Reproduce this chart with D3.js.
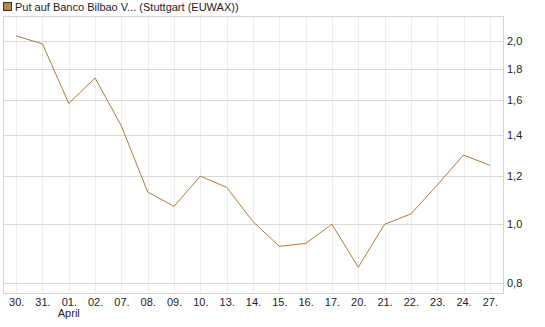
<!DOCTYPE html>
<meta charset="utf-8">
<style>
body { margin: 0; background: #fff; }
text { font-family: "Liberation Sans", Arial, sans-serif; }
</style>
<body>
<script src="https://d3js.org/d3.v7.min.js"></script>
<script>

const title = "Put auf Banco Bilbao V... (Stuttgart (EUWAX))";
const dates = ["30.", "31.", "01.", "02.", "07.", "08.", "09.", "10.", "13.", "14.", "15.", "16.", "17.", "20.", "21.", "22.", "23.", "24.", "27."];
const prices = [2.04, 1.98, 1.58, 1.74, 1.45, 1.13, 1.07, 1.20, 1.15, 1.01, 0.92, 0.93, 1.00, 0.85, 1.00, 1.04, 1.16, 1.30, 1.25];
const yTicks = [0.8, 1.0, 1.2, 1.4, 1.6, 1.8, 2.0];
const monthLabel = { index: 2, text: "April" };

const width = 545, height = 327;
const plot = { left: 3, right: 503, top: 16, bottom: 293 };

const svg = d3.select("body").append("svg")
   .attr("width", width)
   .attr("height", height);

const x = d3.scalePoint()
   .domain(dates)
   .range([plot.left, plot.right])
   .padding(0.5);

const y = d3.scaleLog()
   .domain([0.771, 2.2])
   .range([plot.bottom, plot.top]);

// vertical grid (light)
svg.append("g")
   .selectAll("line")
   .data(dates)
   .join("line")
   .attr("x1", d => Math.round(x(d)) + 0.5)
   .attr("x2", d => Math.round(x(d)) + 0.5)
   .attr("y1", plot.top)
   .attr("y2", plot.bottom)
   .attr("stroke", "#ececec");

// horizontal grid (a bit darker)
svg.append("g")
   .selectAll("line")
   .data(yTicks)
   .join("line")
   .attr("x1", plot.left)
   .attr("x2", plot.right)
   .attr("y1", d => Math.round(y(d)) + 0.5)
   .attr("y2", d => Math.round(y(d)) + 0.5)
   .attr("stroke", "#d9d9d9");

// frame
svg.append("rect")
   .attr("x", plot.left + 0.5)
   .attr("y", plot.top + 0.5)
   .attr("width", plot.right - plot.left)
   .attr("height", plot.bottom - plot.top)
   .attr("fill", "none")
   .attr("stroke", "#d4d4d4");

// y axis on the right
const yAxis = d3.axisRight(y)
   .tickValues(yTicks)
   .tickSize(0)
   .tickPadding(4)
   .tickFormat(d => d3.format(".1f")(d).replace(".", ","));

svg.append("g")
   .attr("transform", `translate(${plot.right},0)`)
   .call(yAxis)
   .call(g => g.select(".domain").remove())
   .selectAll("text")
   .style("font-size", "11px")
   .attr("fill", "#222");

// x axis labels
const xAxis = d3.axisBottom(x).tickSize(0).tickPadding(5);
svg.append("g")
   .attr("transform", `translate(0,${plot.bottom})`)
   .call(xAxis)
   .call(g => g.select(".domain").remove())
   .selectAll("text")
   .style("font-size", "11px")
   .attr("fill", "#222");

svg.append("text")
   .attr("x", x(dates[monthLabel.index]) - 11)
   .attr("y", 317)
   .style("font-size", "11px")
   .attr("fill", "#222")
   .text(monthLabel.text);

// price line
const line = d3.line()
   .x((d, i) => x(dates[i]))
   .y(d => y(d));

svg.append("path")
   .datum(prices)
   .attr("d", line)
   .attr("fill", "none")
   .attr("stroke", "#b07a30")
   .attr("stroke-width", 1);

// legend
svg.append("rect")
   .attr("x", 3.5)
   .attr("y", 2.5)
   .attr("width", 8)
   .attr("height", 8)
   .attr("fill", "#b5894e")
   .attr("stroke", "#333");

svg.append("text")
   .attr("x", 15)
   .attr("y", 11)
   .style("font-size", "11px")
   .attr("fill", "#222")
   .text(title);

</script>
</body>
</html>
